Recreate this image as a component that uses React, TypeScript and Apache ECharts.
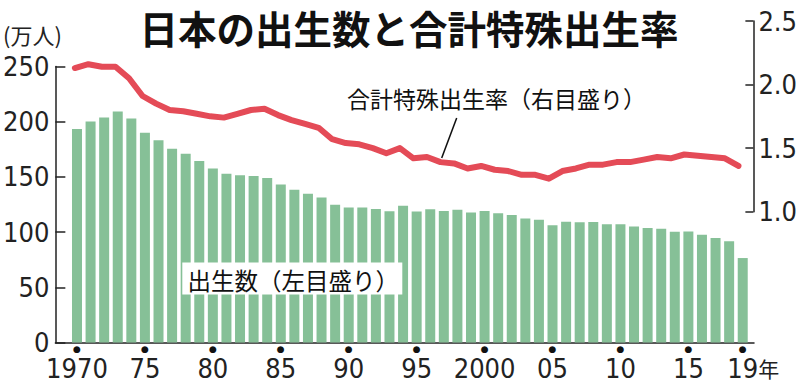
import React, { useEffect, useRef } from "react";
import * as echarts from "echarts";

const years: number[] = [];
for (let y = 1970; y <= 2019; y++) years.push(y);

// 出生数（万人）
const births = [
  193.4, 200.1, 203.9, 209.2, 203.0, 190.1, 183.3, 175.5, 170.9, 164.3,
  157.7, 152.9, 151.5, 150.9, 149.0, 143.2, 138.3, 134.7, 131.4, 124.7,
  122.2, 122.3, 120.9, 118.8, 123.8, 118.7, 120.7, 119.2, 120.3, 117.8,
  119.1, 117.1, 115.4, 112.4, 111.1, 106.3, 109.3, 109.0, 109.1, 107.0,
  107.1, 105.1, 103.7, 103.0, 100.4, 100.6, 97.7, 94.6, 91.8, 76.5,
];

// 合計特殊出生率
const tfr = [
  2.13, 2.16, 2.14, 2.14, 2.05, 1.91, 1.85, 1.8, 1.79, 1.77,
  1.75, 1.74, 1.77, 1.8, 1.81, 1.76, 1.72, 1.69, 1.66, 1.57,
  1.54, 1.53, 1.5, 1.46, 1.5, 1.42, 1.43, 1.39, 1.38, 1.34,
  1.36, 1.33, 1.32, 1.29, 1.29, 1.26, 1.32, 1.34, 1.37, 1.37,
  1.39, 1.39, 1.41, 1.43, 1.42, 1.45, 1.44, 1.43, 1.42, 1.36,
];

const xTickValues = [1970, 1975, 1980, 1985, 1990, 1995, 2000, 2005, 2010, 2015, 2019];
const xTickLabels = ["1970", "75", "80", "85", "90", "95", "2000", "05", "10", "15", "19"];

const NUM_FONT = "'Liberation Sans Narrow', 'DejaVu Sans Condensed', sans-serif";
const CJK_FONT = "'Noto Sans CJK JP', sans-serif";
const NUM_SIZE = 27;

export default function App() {
  const ref = useRef<HTMLDivElement>(null);
  useEffect(() => {
    const chart = echarts.init(ref.current!, null, { renderer: "svg" });
    const x0 = 1968.4075;
    const axisColor = "#222";
    chart.setOption({
      animation: false,
      backgroundColor: "#fff",
      grid: [
        { left: 53.3, right: 46, top: 66.5, bottom: 40.5 },
        { left: 53.3, right: 42.3, top: 21, bottom: 171.3 },
      ],
      xAxis: [
        {
          type: "value", gridIndex: 0, min: x0, max: 2019.83,
          axisLine: { show: true, onZero: false, lineStyle: { color: axisColor, width: 1.5 } },
          axisTick: { show: false },
          axisLabel: {
            show: true, customValues: xTickValues, margin: 0,
            fontFamily: NUM_FONT, fontSize: NUM_SIZE, color: "#222",
            formatter: (v: number) => {
              const i = xTickValues.indexOf(Math.round(v));
              if (i < 0) return "";
              const last = i === xTickValues.length - 1;
              return "{d|●}\n" + (last ? "{y|" + xTickLabels[i] + "}{n|年}" : "{t|" + xTickLabels[i] + "}");
            },
            rich: {
              d: { fontFamily: "DejaVu Sans", fontSize: 9, lineHeight: 13, color: "#111" },
              t: { fontFamily: NUM_FONT, fontSize: NUM_SIZE, lineHeight: 25, color: "#222" },
              y: { fontFamily: NUM_FONT, fontSize: NUM_SIZE, lineHeight: 25, color: "#222", padding: [0, 0, 0, 21] },
              n: { fontFamily: CJK_FONT, fontSize: 21, lineHeight: 25, color: "#222" },
            },
          },
          splitLine: { show: false },
        },
        {
          type: "value", gridIndex: 1, min: x0, max: 2020.103, show: false,
        },
      ],
      yAxis: [
        {
          type: "value", gridIndex: 0, min: 0, max: 250, interval: 50,
          axisLine: { show: true, lineStyle: { color: axisColor, width: 1.5 } },
          axisTick: { show: true, inside: true, length: 10, lineStyle: { color: axisColor, width: 1.5 } },
          axisLabel: { fontFamily: NUM_FONT, fontSize: NUM_SIZE, color: "#222", margin: 6 },
          splitLine: { show: false },
        },
        {
          type: "value", gridIndex: 1, position: "right", min: 1.0, max: 2.5, interval: 0.5,
          axisLine: { show: true, lineStyle: { color: axisColor, width: 1.5 } },
          axisTick: { show: true, inside: true, length: 8, lineStyle: { color: axisColor, width: 1.5 } },
          axisLabel: {
            fontFamily: NUM_FONT, fontSize: NUM_SIZE, color: "#222", margin: 5,
            formatter: (v: number) => v.toFixed(1),
          },
          splitLine: { show: false },
        },
      ],
      series: [
        {
          type: "bar", xAxisIndex: 0, yAxisIndex: 0, barWidth: 10,
          itemStyle: { color: "#86c097" },
          data: years.map((y, i) => [y, births[i]]),
        },
        {
          type: "line", xAxisIndex: 1, yAxisIndex: 1, symbol: "none",
          lineStyle: { color: "#e44b57", width: 6, join: "round", cap: "round" },
          data: years.map((y, i) => [y, tfr[i]]),
          z: 5,
        },
      ],
      graphic: [
        {
          type: "text", x: 409, y: 27, z: 100,
          style: {
            text: "日本の出生数と合計特殊出生率", fontFamily: CJK_FONT, fontWeight: "bold",
            fontSize: 38.5, fill: "#111", align: "center", verticalAlign: "middle",
          },
        },
        {
          type: "text", x: 3, y: 33.5, z: 100,
          style: {
            text: "(万人)", fontFamily: CJK_FONT, fontSize: 22, fill: "#222",
            align: "left", verticalAlign: "middle",
          },
        },
        {
          type: "text", x: 347, y: 98, z: 100,
          style: {
            text: "合計特殊出生率（右目盛り）", fontFamily: CJK_FONT, fontSize: 23, fill: "#111",
            align: "left", verticalAlign: "middle",
          },
        },
        {
          type: "line", z: 100,
          shape: { x1: 456.7, y1: 118, x2: 441.7, y2: 158 },
          style: { stroke: "#111", lineWidth: 1.5 },
        },
        {
          type: "rect", z: 100,
          shape: { x: 182.3, y: 262.5, width: 220, height: 32 },
          style: { fill: "#fff" },
        },
        {
          type: "text", x: 187.5, y: 279.5, z: 101,
          style: {
            text: "出生数（左目盛り）", fontFamily: CJK_FONT, fontSize: 23.5, fill: "#111",
            align: "left", verticalAlign: "middle",
          },
        },
      ],
    });
    return () => chart.dispose();
  }, []);
  return (
    <div
      ref={ref}
      style={{ position: "fixed", left: 0, top: 0, width: 800, height: 383, background: "#fff" }}
    />
  );
}
